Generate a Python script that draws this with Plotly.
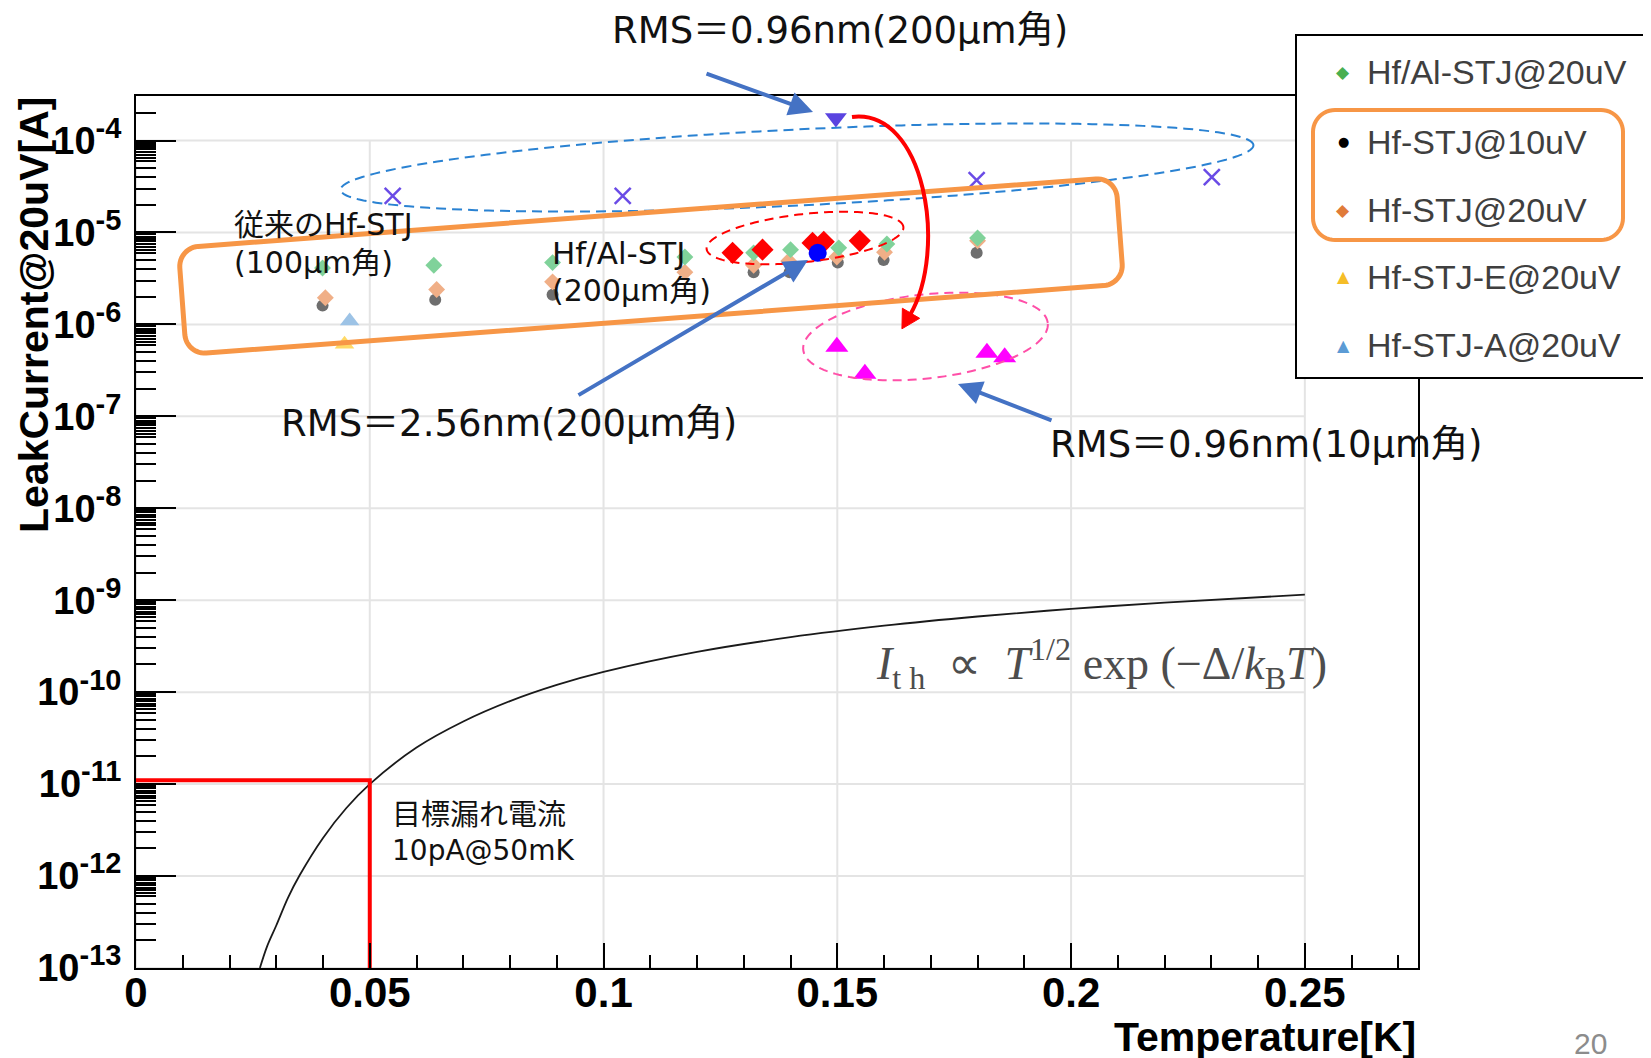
import math
import plotly.graph_objects as go

# ---------------- data ----------------
T_hfal_20 = [0.0399, 0.0637, 0.0891, 0.1174, 0.1321, 0.1400, 0.1503, 0.1606, 0.1800]
I_hfal_20 = [4.1e-6, 4.4e-6, 4.7e-6, 5.4e-6, 6.0e-6, 6.5e-6, 6.8e-6, 7.5e-6, 8.7e-6]

T_hf_10 = [0.0399, 0.0640, 0.0891, 0.1321, 0.1398, 0.1501, 0.1599, 0.1798]
I_hf_10 = [1.6e-6, 1.85e-6, 2.1e-6, 3.7e-6, 3.7e-6, 4.7e-6, 5.0e-6, 6.0e-6]

T_hf_20 = [0.0405, 0.0643, 0.0891, 0.1174, 0.1321, 0.1396, 0.1499, 0.1601, 0.1800]
I_hf_20 = [1.95e-6, 2.4e-6, 2.9e-6, 3.7e-6, 4.4e-6, 4.9e-6, 5.4e-6, 6.1e-6, 8.1e-6]

T_hfE_20 = [0.0446]
I_hfE_20 = [6.1e-7]
T_hfA_20 = [0.0457]
I_hfA_20 = [1.09e-6]

T_red = [0.1276, 0.1340, 0.1447, 0.1471, 0.1548]
I_red = [6.0e-6, 6.5e-6, 7.7e-6, 7.9e-6, 8.1e-6]
T_blue = [0.1458]
I_blue = [6.0e-6]
T_cross = [0.0549, 0.1041, 0.1798, 0.2301]
I_cross = [2.5e-5, 2.5e-5, 3.7e-5, 4.0e-5]
T_inv = [0.1497]
I_inv = [1.76e-4]
T_mag = [0.1499, 0.1559, 0.1820, 0.1858]
I_mag = [5.7e-7, 2.9e-7, 4.9e-7, 4.4e-7]

# theoretical thermal current curve
T_th = [0.0265, 0.0280, 0.030, 0.0325, 0.035, 0.040, 0.045, 0.050, 0.060, 0.070, 0.080,
        0.090, 0.100, 0.120, 0.140, 0.160, 0.180, 0.200, 0.220, 0.250]
I_th = [1.0e-13, 1.7e-13, 2.9e-13, 5.8e-13, 1.02e-12, 2.6e-12, 5.5e-12, 1.0e-11, 2.5e-11,
        4.8e-11, 8.0e-11, 1.2e-10, 1.66e-10, 2.74e-10, 3.96e-10, 5.28e-10, 6.65e-10,
        8.04e-10, 9.42e-10, 1.15e-9]

# target leak current marker
target_T = [0.0, 0.05, 0.05]
target_I = [1.1e-11, 1.1e-11, 1e-13]

x_tickvals = [0, 0.05, 0.10, 0.15, 0.20, 0.25]
x_ticktext = ["0", "0.05", "0.1", "0.15", "0.2", "0.25"]
y_exps = [-4, -5, -6, -7, -8, -9, -10, -11, -12, -13]

legend_labels = ["Hf/Al-STJ@20uV", "Hf-STJ@10uV", "Hf-STJ@20uV", "Hf-STJ-E@20uV", "Hf-STJ-A@20uV"]

# ---------------- layout geometry ----------------
# page has an 8px body margin; figure is shrunk so plot lands at the same page pixels
OFF = 8
FIG_W, FIG_H = 1651 - OFF, 1058 - OFF
ABS_L, ABS_T, ABS_R, ABS_B = 136, 96, 1418, 968
M_L, M_T = ABS_L - OFF, ABS_T - OFF
M_R = OFF + FIG_W - ABS_R
M_B = OFF + FIG_H - ABS_B
PW = ABS_R - ABS_L
PH = ABS_B - ABS_T
X_RANGE = [0.0, 0.2742]
Y_RANGE = [-13.0, -3.516]


def pxp(px, py):
    return ((px - ABS_L) / PW, (ABS_B - py) / PH)


def dat(x, y):
    return ((x - X_RANGE[0]) / (X_RANGE[1] - X_RANGE[0]),
            (math.log10(y) - Y_RANGE[0]) / (Y_RANGE[1] - Y_RANGE[0]))


def poly_path(pts, close=True):
    s = ""
    for i, (x, y) in enumerate(pts):
        u, v = pxp(x, y)
        s += ("M" if i == 0 else "L") + f"{u:.5f},{v:.5f} "
    if close:
        s += "Z"
    return s


def ellipse_px(cx, cy, a, b, ang, n=160):
    ca, sa = math.cos(math.radians(ang)), math.sin(math.radians(ang))
    pts = []
    for k in range(n):
        t = 2 * math.pi * k / n
        u, v = a * math.cos(t), b * math.sin(t)
        pts.append((cx + u * ca - v * sa, cy - (u * sa + v * ca)))
    return pts


def rrect_px(cx, cy, w, h, r, ang, n=12):
    ca, sa = math.cos(math.radians(ang)), math.sin(math.radians(ang))
    corners = [(w / 2 - r, h / 2 - r, 0), (-(w / 2 - r), h / 2 - r, 90),
               (-(w / 2 - r), -(h / 2 - r), 180), (w / 2 - r, -(h / 2 - r), 270)]
    pts = []
    for ux, vy, a0 in corners:
        for k in range(n + 1):
            t = math.radians(a0 + 90 * k / n)
            u, v = ux + r * math.cos(t), vy + r * math.sin(t)
            pts.append((cx + u * ca - v * sa, cy - (u * sa + v * ca)))
    return pts


fig = go.Figure()

# ---------------- traces ----------------
fig.add_trace(go.Scatter(x=T_th, y=I_th, mode="lines", line=dict(color="#1A1A1A", width=1.8, shape="spline"),
                         showlegend=False, hoverinfo="skip"))
fig.add_trace(go.Scatter(x=target_T, y=target_I, mode="lines", line=dict(color="#FF0000", width=4),
                         showlegend=False, hoverinfo="skip"))

fig.add_trace(go.Scatter(x=T_hf_10, y=I_hf_10, mode="markers", name=legend_labels[1],
                         marker=dict(symbol="circle", size=12, color="#6E6E6E")))
fig.add_trace(go.Scatter(x=T_hf_20, y=I_hf_20, mode="markers", name=legend_labels[2],
                         marker=dict(symbol="diamond", size=13, color="#F0AF87")))
fig.add_trace(go.Scatter(x=T_hfal_20, y=I_hfal_20, mode="markers", name=legend_labels[0],
                         marker=dict(symbol="diamond", size=13, color="#80D29A")))
fig.add_trace(go.Scatter(x=T_hfE_20, y=I_hfE_20, mode="markers", name=legend_labels[3],
                         marker=dict(symbol="triangle-up", size=17, color="#FFD966")))
fig.add_trace(go.Scatter(x=T_hfA_20, y=I_hfA_20, mode="markers", name=legend_labels[4],
                         marker=dict(symbol="triangle-up", size=17, color="#9DC3E6")))
fig.add_trace(go.Scatter(x=T_red, y=I_red, mode="markers", showlegend=False,
                         marker=dict(symbol="diamond", size=17, color="#FF0000")))
fig.add_trace(go.Scatter(x=T_blue, y=I_blue, mode="markers", showlegend=False,
                         marker=dict(symbol="circle", size=18, color="#0000FF")))
fig.add_trace(go.Scatter(x=T_cross, y=I_cross, mode="markers", showlegend=False,
                         marker=dict(symbol="x-thin", size=16, line=dict(width=2.5, color="#6A4BE6"))))
fig.add_trace(go.Scatter(x=T_inv, y=I_inv, mode="markers", showlegend=False,
                         marker=dict(symbol="triangle-down", size=19, color="#5A44E0")))
fig.add_trace(go.Scatter(x=T_mag, y=I_mag, mode="markers", showlegend=False,
                         marker=dict(symbol="triangle-up", size=20, color="#FF00FF")))

# ---------------- shapes ----------------
shapes = []
grid_col = "#E4E4E4"
for xv in x_tickvals:
    x0, y0 = dat(xv, 1e-13)
    _, y1 = dat(xv, 1e-4)
    shapes.append(dict(type="line", xref="paper", yref="paper", x0=x0, x1=x0, y0=y0, y1=y1,
                       line=dict(color=grid_col, width=2), layer="below"))
for e in y_exps:
    x0, yv = dat(0.0, 10.0 ** e)
    x1, _ = dat(0.25, 10.0 ** e)
    shapes.append(dict(type="line", xref="paper", yref="paper", x0=x0, x1=x1, y0=yv, y1=yv,
                       line=dict(color=grid_col, width=2), layer="below"))

# dashed ellipses
shapes.append(dict(type="path", xref="paper", yref="paper", path=poly_path(ellipse_px(797, 167.5, 457, 38, 2.8)),
                   line=dict(color="#2A82D2", width=2, dash="10px,6px"), layer="above"))
shapes.append(dict(type="path", xref="paper", yref="paper", path=poly_path(ellipse_px(805, 238, 99, 24, 6.4)),
                   line=dict(color="#FF0000", width=2, dash="9px,6px"), layer="above"))
shapes.append(dict(type="path", xref="paper", yref="paper", path=poly_path(ellipse_px(925.5, 336.5, 123, 42, 6.3)),
                   line=dict(color="#FF4FA8", width=2, dash="9px,6px"), layer="above"))

# big orange rounded rectangle (tilted)
shapes.append(dict(type="path", xref="paper", yref="paper", path=poly_path(rrect_px(651, 266, 940, 107, 20, 4.3)),
                   line=dict(color="#F79646", width=5), layer="above"))

# red curved arrow
P0, P1, P2, P3 = (852, 117), (925, 108), (948, 250), (910, 315)
c = [pxp(*p) for p in (P0, P1, P2, P3)]
shapes.append(dict(type="path", xref="paper", yref="paper",
                   path=f"M{c[0][0]:.5f},{c[0][1]:.5f} C{c[1][0]:.5f},{c[1][1]:.5f} {c[2][0]:.5f},{c[2][1]:.5f} {c[3][0]:.5f},{c[3][1]:.5f}",
                   line=dict(color="#FF0000", width=4), layer="above"))
dx, dy = P3[0] - P2[0], P3[1] - P2[1]
dn = math.hypot(dx, dy)
dx, dy = dx / dn, dy / dn
tip = (P3[0] + dx * 16, P3[1] + dy * 16)
base_c = (P3[0] - dx * 2, P3[1] - dy * 2)
b1 = (base_c[0] - dy * 10, base_c[1] + dx * 10)
b2 = (base_c[0] + dy * 10, base_c[1] - dx * 10)
shapes.append(dict(type="path", xref="paper", yref="paper", path=poly_path([tip, b1, b2]),
                   fillcolor="#FF0000", line=dict(color="#FF0000", width=1), layer="above"))

# legend box
lx0, ly0 = pxp(1296, 35)
lx1, ly1 = pxp(1645, 378)
shapes.append(dict(type="rect", xref="paper", yref="paper", x0=lx0, x1=lx1, y0=ly1, y1=ly0,
                   fillcolor="white", line=dict(color="black", width=2), layer="above"))
shapes.append(dict(type="path", xref="paper", yref="paper", path=poly_path(rrect_px(1468, 175, 310, 130, 22, 0)),
                   line=dict(color="#F79646", width=4), layer="above"))

# ---------------- annotations ----------------
ann = []
JP = "DejaVu Sans, Noto Sans CJK JP"


def text_px(txt, x, y, size, xanchor="left", family=JP, color="#111111", **kw):
    u, v = pxp(x, y)
    ann.append(dict(text=txt, x=u, y=v, xref="paper", yref="paper", xanchor=xanchor, yanchor="middle",
                    showarrow=False, font=dict(family=family, size=size, color=color), **kw))


def arrow_px(head, tail, color="#4472C4", width=4):
    u, v = pxp(*head)
    ann.append(dict(text="", x=u, y=v, xref="paper", yref="paper", ax=tail[0] - head[0], ay=tail[1] - head[1],
                    axref="pixel", ayref="pixel", showarrow=True, arrowhead=2, arrowsize=1.2,
                    arrowwidth=width, arrowcolor=color, standoff=0, startstandoff=0))


text_px("RMS＝0.96nm(200μm角)", 610, 30, 37)
text_px("RMS＝2.56nm(200μm角)", 279, 423, 37)
text_px("RMS＝0.96nm(10μm角)", 1048, 444, 37)
text_px("従来のHf-STJ", 232, 225, 30)
text_px("(100μm角)", 232, 262, 30)
text_px("Hf/Al-STJ", 550, 253, 31)
text_px("(200μm角)", 550, 290, 30)
text_px("目標漏れ電流", 390, 815, 29)
text_px("10pA@50mK", 390, 850, 28)
NB = "\u00a0"
text_px(f"<i>I</i><sub>t{NB}h</sub>{NB}{NB}∝{NB}{NB}<i>T</i><sup>1/2</sup>{NB}exp{NB}(−Δ/<i>k</i><sub>B</sub><i>T</i>)",
        874, 663, 46, family="Liberation Serif", color="#4D4D4D")
text_px("20", 1591, 1043, 30, xanchor="center", family="Liberation Sans", color="#8C8C8C")

arrow_px((813, 112), (705, 73))
arrow_px((808, 260), (577, 396))
arrow_px((958, 384), (1053, 421))

# axis titles
text_px("<b>LeakCurrent@20uV[A]</b>", 34, 315, 41, xanchor="center", family="Liberation Sans",
        color="black", textangle=-90)
text_px("<b>Temperature[K]</b>", 1418, 1037, 41, xanchor="right", family="Liberation Sans", color="black")

# legend contents
leg_y = [72, 142, 210, 277, 345]
leg_sym = ["◆", "●", "◆", "▲", "▲"]
leg_col = ["#47AF52", "#000000", "#E07B39", "#F5BD27", "#5B9BD5"]
leg_sz = [17, 13, 17, 16, 16]
for lab, yy, sym, col, sz in zip(legend_labels, leg_y, leg_sym, leg_col, leg_sz):
    text_px(sym, 1343, yy, sz, xanchor="center", family="DejaVu Sans", color=col)
    text_px(lab, 1365, yy, 34, family="Liberation Sans", color="#3F3F3F")

# ---------------- axes ----------------
y_tickvals = [10.0 ** e for e in y_exps]
y_ticktext = [f"<b>10<sup><span style='font-size:29px'>{e}</span></sup></b>" for e in y_exps]
y_minor = []
for e in range(-13, -3):
    for m in [2, 3, 4, 5, 6, 6.5, 7, 7.5, 8, 8.5, 9, 9.5]:
        y_minor.append(m * 10.0 ** e)

fig.update_layout(
    width=FIG_W, height=FIG_H,
    margin=dict(l=M_L, r=M_R, t=M_T, b=M_B, pad=0),
    paper_bgcolor="white", plot_bgcolor="white",
    showlegend=False,
    shapes=shapes, annotations=ann,
    xaxis=dict(range=X_RANGE, showgrid=False, zeroline=False, showline=True, mirror=True,
               linecolor="black", linewidth=2, ticks="inside", ticklen=25, tickwidth=2, tickcolor="black",
               tickmode="array", tickvals=x_tickvals, ticktext=x_ticktext,
               tickfont=dict(family="Liberation Sans", size=42, color="black", weight="bold"),
               ticklabelstandoff=-13,
               minor=dict(ticks="inside", ticklen=13, tickwidth=2, tickcolor="black", dtick=0.01, tick0=0,
                          showgrid=False)),
    yaxis=dict(type="log", range=Y_RANGE, showgrid=False, zeroline=False, showline=True, mirror=True,
               linecolor="black", linewidth=2, ticks="inside", ticklen=40, tickwidth=2, tickcolor="black",
               tickmode="array", tickvals=y_tickvals, ticktext=y_ticktext,
               tickfont=dict(family="Liberation Sans", size=38, color="black"),
               ticklabelstandoff=5,
               minor=dict(ticks="inside", ticklen=20, tickwidth=1.5, tickcolor="black", tickmode="array",
                          tickvals=y_minor, showgrid=False)),
)

fig.write_html("out.html")
